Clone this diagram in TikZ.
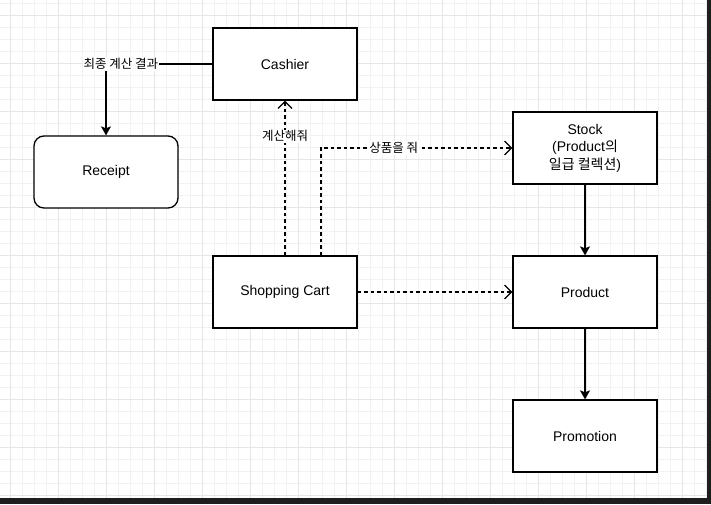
\documentclass[tikz,border=0pt]{standalone}
\usepackage{fontspec}
\setmainfont{Liberation Sans}
\newfontfamily\kr{Noto Sans CJK KR}
\usetikzlibrary{arrows.meta, positioning}
\definecolor{gridminor}{HTML}{F1F1F1}
\definecolor{gridmajor}{HTML}{E6E6E6}
\definecolor{frame}{HTML}{1E1E1E}
\tikzset{
  box/.style={draw, line width=1.3pt, fill=white, minimum width=144pt, minimum height=72pt, font=\fontsize{14}{17.5}\selectfont, align=center, inner sep=0pt},
  roundbox/.style={box, rounded corners=10pt},
  assoc/.style={line width=1.3pt, -{Stealth[length=9pt, width=10pt, inset=2pt]}},
  depend/.style={line width=1.2pt, dash pattern=on 3.5pt off 3pt, -{Straight Barb[length=7pt, width=14pt, line width=1.2pt]}},
  lbl/.style={fill=white, inner sep=1pt, font=\kr\fontsize{12.5}{15}\selectfont}
}
\begin{document}
\begin{tikzpicture}[x=1pt, y=-1pt]
			\useasboundingbox (0,0) rectangle (711,504);
			\fill[white] (0,0) rectangle (711,504);
			% grid
			\foreach \gx in {10,22,...,706} \draw[gridminor, line width=0.8pt] (\gx,0) -- (\gx,498);
			\foreach \gy in {3,15,...,498} \draw[gridminor, line width=0.8pt] (0,\gy) -- (707,\gy);
			\foreach \gx in {10,58,...,706} \draw[gridmajor, line width=0.9pt] (\gx,0) -- (\gx,498);
			\foreach \gy in {15,63,...,498} \draw[gridmajor, line width=0.9pt] (0,\gy) -- (707,\gy);
			\fill[frame] (707,0) rectangle (711,504);
			\fill[frame] (0,498) rectangle (711,504);
			% classes
			\node[box] (cashier) at (285,64) {Cashier};
			\node[roundbox] (receipt) at (106,172) {Receipt};
			\node[box] (stock) at (585,148) {Stock\\(Product{\kr 의}\\{\kr 일급 컬렉션})};
			\node[box] (cart) at (285,292) {Shopping Cart};
			\node[box] (product) at (585,292) {Product};
			\node[box] (promotion) at (585,436) {Promotion};
			% relations
			\draw[assoc] (cashier.west) -| node[lbl, pos=0.43]{최종 계산 결과} (receipt.north);
			\draw[depend] (cart.north) -- node[lbl, pos=0.77]{계산해줘} (cashier.south);
			\coordinate (cartout) at ([xshift=36pt]cart.north);
			\draw[depend] (cartout) |- node[lbl, pos=0.69]{상품을 줘} (stock.west);
			\draw[depend] (cart.east) -- (product.west);
			\draw[assoc] (stock.south) -- (product.north);
			\draw[assoc] (product.south) -- (promotion.north);
		\end{tikzpicture}
\end{document}
